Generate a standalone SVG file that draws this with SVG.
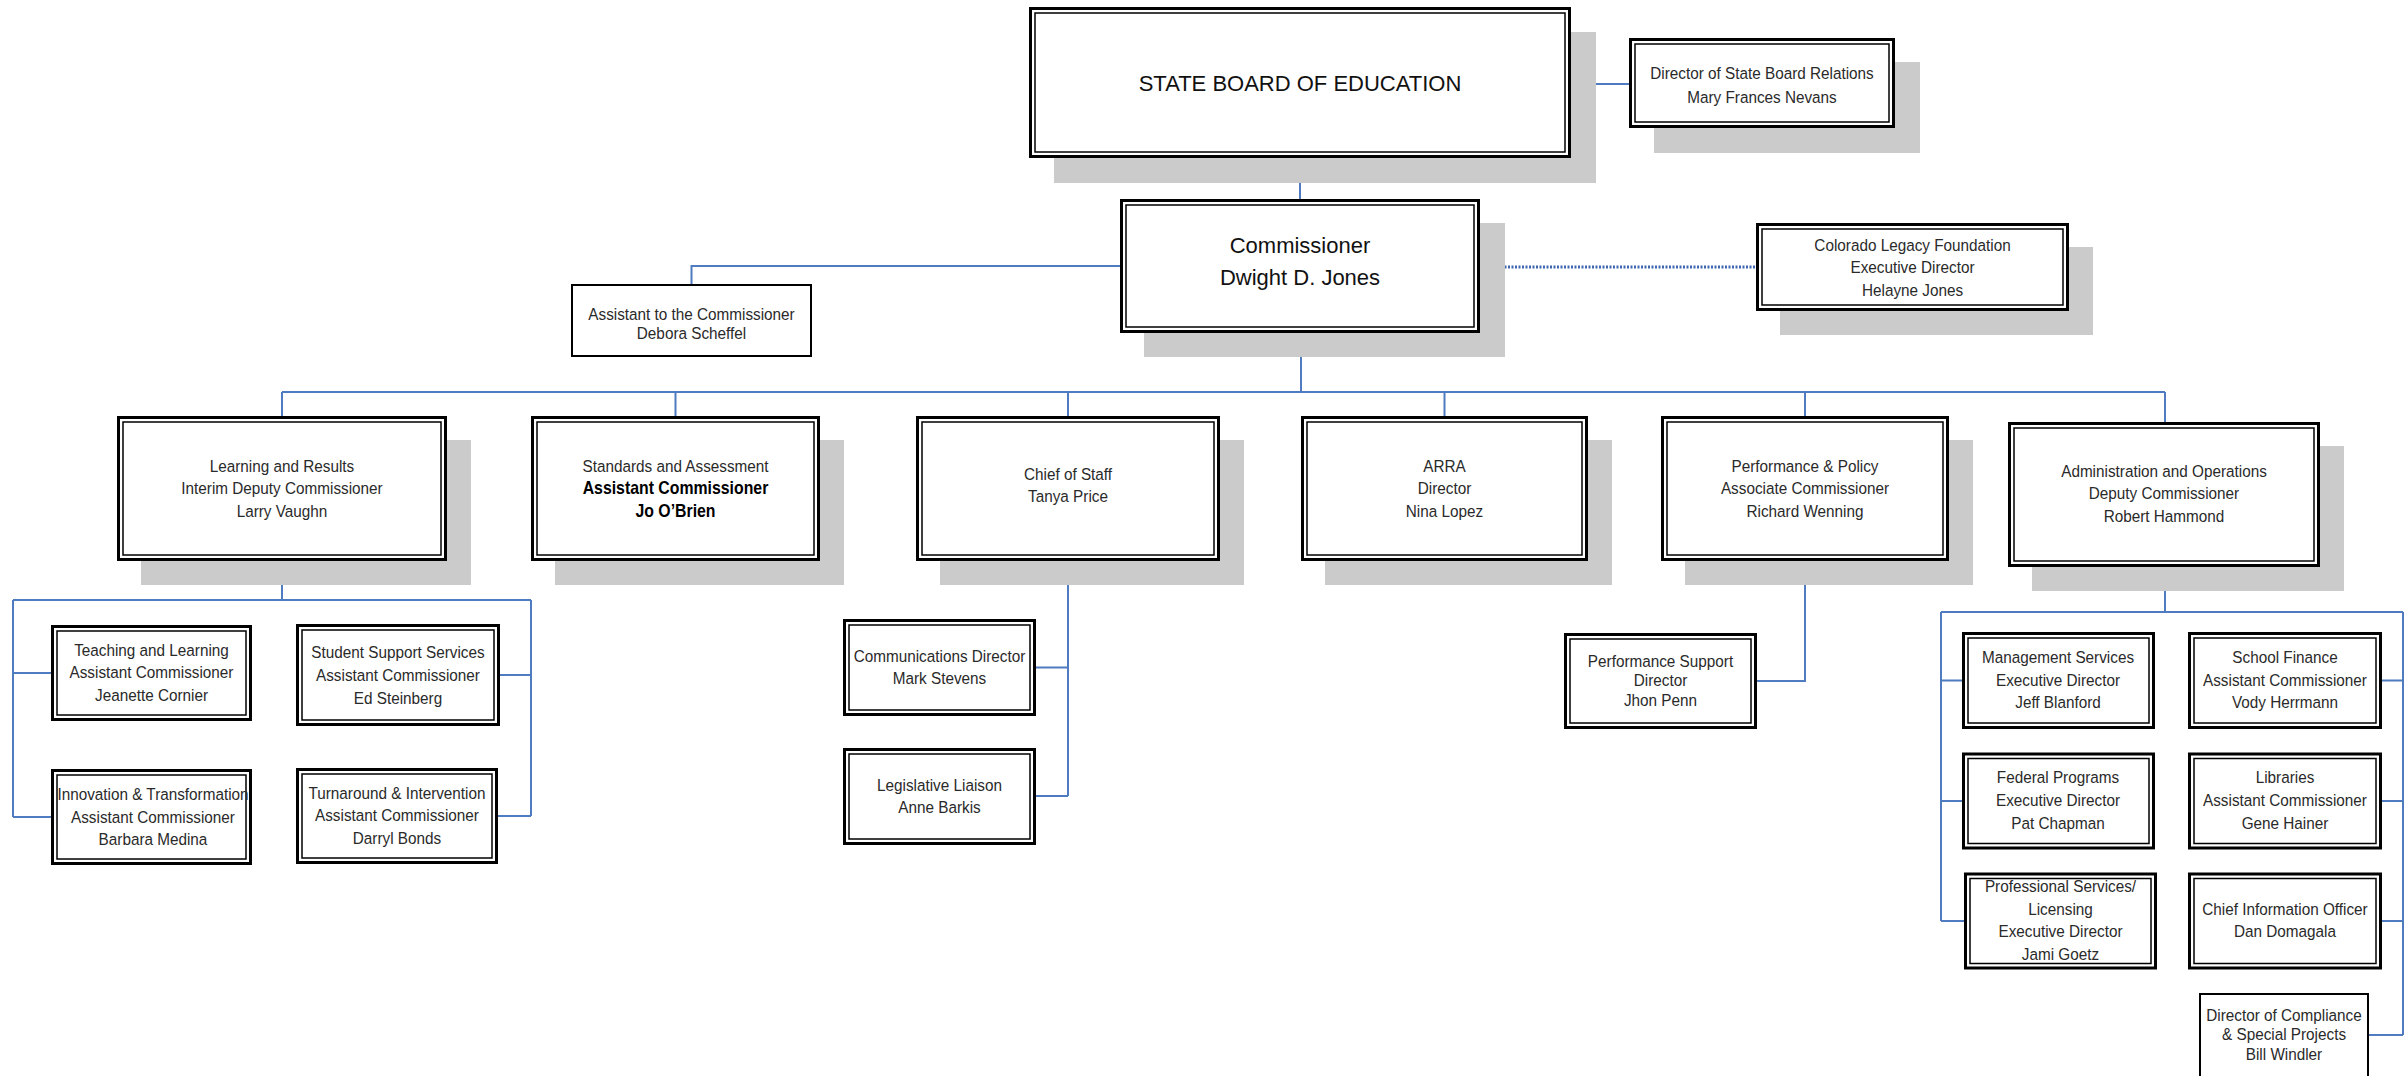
<svg xmlns="http://www.w3.org/2000/svg" width="2405" height="1076" viewBox="0 0 2405 1076">
<style>
.bg{fill:#fff}
.sh{fill:#cbcbcb}
.o{fill:#fff;stroke:#000;stroke-width:3}
.i{fill:none;stroke:#000;stroke-width:1.5}
.s{fill:#fff;stroke:#000;stroke-width:2}
.t{font-family:"Liberation Sans",Arial,sans-serif;font-size:17px;fill:#2a2a2a;text-anchor:middle}
.b{font-weight:bold;font-size:17.6px;fill:#000}
.big{font-size:22px;fill:#111}
.c{fill:none;stroke:#4f7bc0;stroke-width:2}
.d{fill:none;stroke:#3f66b0;stroke-width:3;stroke-dasharray:2 1.5}
</style>
<rect class="bg" x="0" y="0" width="2405" height="1076"/>

<g id="connectors">
<path class="c" d="M1571,84H1629"/>
<path class="c" d="M1300,158V199"/>
<path class="c" d="M1120,266H691.5V284"/>
<path class="d" d="M1480,267H1756"/>
<path class="c" d="M1301,333V392"/>
<path class="c" d="M282,392H2165"/>
<path class="c" d="M282,392V416M675.5,392V416M1068,392V416M1444.5,392V416M1805,392V416M2165,392V422"/>
<path class="c" d="M282,561V600M13,600H531M13,600V817M531,600V816M13,673H51M13,817H51M500,675H531M498,816H531"/>
<path class="c" d="M1068,561V796M1036,667.5H1068M1036,796H1068"/>
<path class="c" d="M1805,561V681H1757"/>
<path class="c" d="M2165,567V612M1941,612H2403M1941,612V921M2403,612V1035M1941,680.5H1962M1941,801H1962M1941,921H1964M2382,680.5H2403M2382,801H2403M2382,921H2403M2369,1035H2403"/>
</g>

<g id="state-board">
<rect class="sh" x="1054" y="32" width="542" height="151"/>
<rect class="o" x="1030.5" y="8.5" width="539" height="148"/>
<rect class="i" x="1035" y="13" width="530" height="139"/>
<text class="t big" x="1300" y="91">STATE BOARD OF EDUCATION</text>
</g>

<g id="director-sbr">
<rect class="sh" x="1654" y="62" width="266" height="91"/>
<rect class="o" x="1630.5" y="39.5" width="263" height="87"/>
<rect class="i" x="1635" y="44" width="254" height="78"/>
<g transform="translate(1762 0) scale(0.9 1)">
<text class="t" x="0" y="79">Director of State Board Relations</text>
<text class="t" x="0" y="103">Mary Frances Nevans</text>
</g>
</g>

<g id="commissioner">
<rect class="sh" x="1144" y="223" width="361" height="134"/>
<rect class="o" x="1121.5" y="200.5" width="357" height="131"/>
<rect class="i" x="1126" y="205" width="348" height="122"/>
<text class="t big" x="1300" y="253">Commissioner</text>
<text class="t big" x="1300" y="284.5">Dwight D. Jones</text>
</g>

<g id="assistant">
<rect class="s" x="572" y="285" width="239" height="71"/>
<g transform="translate(691.5 0) scale(0.9 1)">
<text class="t" x="0" y="320">Assistant to the Commissioner</text>
<text class="t" x="0" y="339.5">Debora Scheffel</text>
</g>
</g>

<g id="colorado-legacy">
<rect class="sh" x="1780" y="247" width="313" height="88"/>
<rect class="o" x="1757.5" y="224.5" width="310" height="85"/>
<rect class="i" x="1762" y="229" width="301" height="76"/>
<g transform="translate(1912.5 0) scale(0.9 1)">
<text class="t" x="0" y="251">Colorado Legacy Foundation</text>
<text class="t" x="0" y="273.5">Executive Director</text>
<text class="t" x="0" y="296">Helayne Jones</text>
</g>
</g>

<g id="learning">
<rect class="sh" x="141" y="440" width="330" height="145"/>
<rect class="o" x="118.5" y="417.5" width="327" height="142"/>
<rect class="i" x="123" y="422" width="318" height="133"/>
<g transform="translate(282 0) scale(0.9 1)">
<text class="t" x="0" y="472">Learning and Results</text>
<text class="t" x="0" y="494.5">Interim Deputy Commissioner</text>
<text class="t" x="0" y="517">Larry Vaughn</text>
</g>
</g>

<g id="standards">
<rect class="sh" x="555" y="440" width="289" height="145"/>
<rect class="o" x="532.5" y="417.5" width="286" height="142"/>
<rect class="i" x="537" y="422" width="277" height="133"/>
<g transform="translate(675.5 0) scale(0.9 1)">
<text class="t" x="0" y="472">Standards and Assessment</text>
<text class="t b" x="0" y="494.5">Assistant Commissioner</text>
<text class="t b" x="0" y="517">Jo O’Brien</text>
</g>
</g>

<g id="chief-of-staff">
<rect class="sh" x="940" y="440" width="304" height="145"/>
<rect class="o" x="917.5" y="417.5" width="301" height="142"/>
<rect class="i" x="922" y="422" width="292" height="133"/>
<g transform="translate(1068 0) scale(0.9 1)">
<text class="t" x="0" y="480">Chief of Staff</text>
<text class="t" x="0" y="502.5">Tanya Price</text>
</g>
</g>

<g id="arra">
<rect class="sh" x="1325" y="440" width="287" height="145"/>
<rect class="o" x="1302.5" y="417.5" width="284" height="142"/>
<rect class="i" x="1307" y="422" width="275" height="133"/>
<g transform="translate(1444.5 0) scale(0.9 1)">
<text class="t" x="0" y="472">ARRA</text>
<text class="t" x="0" y="494.5">Director</text>
<text class="t" x="0" y="517">Nina Lopez</text>
</g>
</g>

<g id="performance-policy">
<rect class="sh" x="1685" y="440" width="288" height="145"/>
<rect class="o" x="1662.5" y="417.5" width="285" height="142"/>
<rect class="i" x="1667" y="422" width="276" height="133"/>
<g transform="translate(1805 0) scale(0.9 1)">
<text class="t" x="0" y="472">Performance &amp; Policy</text>
<text class="t" x="0" y="494.5">Associate Commissioner</text>
<text class="t" x="0" y="517">Richard Wenning</text>
</g>
</g>

<g id="administration">
<rect class="sh" x="2032" y="446" width="312" height="145"/>
<rect class="o" x="2009.5" y="423.5" width="309" height="142"/>
<rect class="i" x="2014" y="428" width="300" height="133"/>
<g transform="translate(2164 0) scale(0.9 1)">
<text class="t" x="0" y="477">Administration and Operations</text>
<text class="t" x="0" y="499.5">Deputy Commissioner</text>
<text class="t" x="0" y="522">Robert Hammond</text>
</g>
</g>

<g id="teaching-learning">
<rect class="o" x="52.5" y="626.5" width="198" height="93"/>
<rect class="i" x="57" y="631" width="189" height="84"/>
<g transform="translate(151.5 0) scale(0.9 1)">
<text class="t" x="0" y="656">Teaching and Learning</text>
<text class="t" x="0" y="678.5">Assistant Commissioner</text>
<text class="t" x="0" y="701">Jeanette Cornier</text>
</g>
</g>

<g id="student-support">
<rect class="o" x="297.5" y="625.5" width="201" height="99"/>
<rect class="i" x="302" y="630" width="192" height="90"/>
<g transform="translate(398 0) scale(0.9 1)">
<text class="t" x="0" y="658.5">Student Support Services</text>
<text class="t" x="0" y="681">Assistant Commissioner</text>
<text class="t" x="0" y="703.5">Ed Steinberg</text>
</g>
</g>

<g id="innovation">
<rect class="o" x="52.5" y="770.5" width="198" height="93"/>
<rect class="i" x="57" y="775" width="189" height="84"/>
<g transform="translate(153 0) scale(0.9 1)">
<text class="t" x="0" y="800.5">Innovation &amp; Transformation</text>
<text class="t" x="0" y="823">Assistant Commissioner</text>
<text class="t" x="0" y="845.5">Barbara Medina</text>
</g>
</g>

<g id="turnaround">
<rect class="o" x="297.5" y="769.5" width="199" height="93"/>
<rect class="i" x="302" y="774" width="190" height="84"/>
<g transform="translate(397 0) scale(0.9 1)">
<text class="t" x="0" y="799">Turnaround &amp; Intervention</text>
<text class="t" x="0" y="821.5">Assistant Commissioner</text>
<text class="t" x="0" y="844">Darryl Bonds</text>
</g>
</g>

<g id="communications">
<rect class="o" x="844.5" y="620.5" width="190" height="94"/>
<rect class="i" x="849" y="625" width="181" height="85"/>
<g transform="translate(939.5 0) scale(0.9 1)">
<text class="t" x="0" y="662">Communications Director</text>
<text class="t" x="0" y="684.5">Mark Stevens</text>
</g>
</g>

<g id="legislative">
<rect class="o" x="844.5" y="749.5" width="190" height="94"/>
<rect class="i" x="849" y="754" width="181" height="85"/>
<g transform="translate(939.5 0) scale(0.9 1)">
<text class="t" x="0" y="791">Legislative Liaison</text>
<text class="t" x="0" y="813.5">Anne Barkis</text>
</g>
</g>

<g id="performance-support">
<rect class="o" x="1565.5" y="634.5" width="190" height="93"/>
<rect class="i" x="1570" y="639" width="181" height="84"/>
<g transform="translate(1660.5 0) scale(0.9 1)">
<text class="t" x="0" y="667">Performance Support</text>
<text class="t" x="0" y="686.5">Director</text>
<text class="t" x="0" y="706">Jhon Penn</text>
</g>
</g>

<g id="management-services">
<rect class="o" x="1963.5" y="633.5" width="190" height="94"/>
<rect class="i" x="1968" y="638" width="181" height="85"/>
<g transform="translate(2058 0) scale(0.9 1)">
<text class="t" x="0" y="663">Management Services</text>
<text class="t" x="0" y="686">Executive Director</text>
<text class="t" x="0" y="708.5">Jeff Blanford</text>
</g>
</g>

<g id="federal-programs">
<rect class="o" x="1963.5" y="754" width="190" height="94"/>
<rect class="i" x="1968" y="758.5" width="181" height="85"/>
<g transform="translate(2058 0) scale(0.9 1)">
<text class="t" x="0" y="783.5">Federal Programs</text>
<text class="t" x="0" y="806.5">Executive Director</text>
<text class="t" x="0" y="829">Pat Chapman</text>
</g>
</g>

<g id="professional-services">
<rect class="o" x="1965.5" y="874" width="190" height="94"/>
<rect class="i" x="1970" y="878.5" width="181" height="85"/>
<g transform="translate(2060.5 0) scale(0.9 1)">
<text class="t" x="0" y="892.5">Professional Services/</text>
<text class="t" x="0" y="915">Licensing</text>
<text class="t" x="0" y="937.5">Executive Director</text>
<text class="t" x="0" y="960">Jami Goetz</text>
</g>
</g>

<g id="school-finance">
<rect class="o" x="2189.5" y="633.5" width="191" height="94"/>
<rect class="i" x="2194" y="638" width="182" height="85"/>
<g transform="translate(2285 0) scale(0.9 1)">
<text class="t" x="0" y="663">School Finance</text>
<text class="t" x="0" y="686">Assistant Commissioner</text>
<text class="t" x="0" y="708.5">Vody Herrmann</text>
</g>
</g>

<g id="libraries">
<rect class="o" x="2189.5" y="754" width="191" height="94"/>
<rect class="i" x="2194" y="758.5" width="182" height="85"/>
<g transform="translate(2285 0) scale(0.9 1)">
<text class="t" x="0" y="783.5">Libraries</text>
<text class="t" x="0" y="806.5">Assistant Commissioner</text>
<text class="t" x="0" y="829">Gene Hainer</text>
</g>
</g>

<g id="chief-information-officer">
<rect class="o" x="2189.5" y="874" width="191" height="94"/>
<rect class="i" x="2194" y="878.5" width="182" height="85"/>
<g transform="translate(2285 0) scale(0.9 1)">
<text class="t" x="0" y="915">Chief Information Officer</text>
<text class="t" x="0" y="937.5">Dan Domagala</text>
</g>
</g>

<g id="compliance">
<rect class="s" x="2200" y="994" width="168" height="90"/>
<g transform="translate(2284 0) scale(0.9 1)">
<text class="t" x="0" y="1021">Director of Compliance</text>
<text class="t" x="0" y="1040.5">&amp; Special Projects</text>
<text class="t" x="0" y="1060">Bill Windler</text>
</g>
</g>
</svg>
